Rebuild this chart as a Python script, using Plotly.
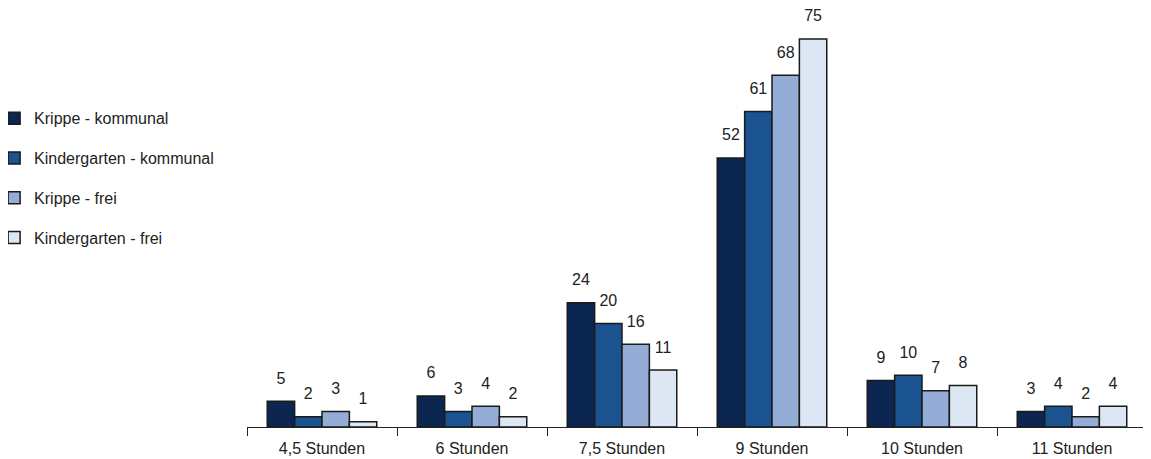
import plotly.graph_objects as go

categories = ["4,5 Stunden", "6 Stunden", "7,5 Stunden", "9 Stunden", "10 Stunden", "11 Stunden"]
series_names = ["Krippe - kommunal", "Kindergarten - kommunal", "Krippe - frei", "Kindergarten - frei"]
krippe_kommunal = [5, 6, 24, 52, 9, 3]
kindergarten_kommunal = [2, 3, 20, 61, 10, 4]
krippe_frei = [3, 4, 16, 68, 7, 2]
kindergarten_frei = [1, 2, 11, 75, 8, 4]
series_values = [krippe_kommunal, kindergarten_kommunal, krippe_frei, kindergarten_frei]
colors = ["#0b2651", "#1b5290", "#93add6", "#dde7f3"]

FONT = "Liberation Sans, Arial, sans-serif"
TXT = "#222222"

fig = go.Figure()
for i, (name, vals) in enumerate(zip(series_names, series_values)):
    fig.add_trace(go.Bar(
        x=categories, y=vals, name=name,
        marker=dict(color=colors[i], line=dict(color="#1a1a1a", width=1.5)),
        legendgroup=name,
    ))
for i, (name, vals) in enumerate(zip(series_names, series_values)):
    fig.add_trace(go.Scatter(
        x=categories, y=vals, mode="markers+text", showlegend=False,
        text=[str(v) for v in vals], textposition="top center",
        marker=dict(size=20, color="rgba(0,0,0,0)"),
        textfont=dict(size=16, color=TXT, family=FONT),
        cliponaxis=False, hoverinfo="skip",
    ))

# page has an 8px body margin, so figure is sized/positioned to compensate
fig.update_layout(
    width=1143, height=451,
    margin=dict(l=239, r=4, t=2, b=32, autoexpand=False),
    paper_bgcolor="white", plot_bgcolor="white",
    barmode="group", bargap=0.27, bargroupgap=0,
    scattermode="group", scattergap=0.27,
    font=dict(family=FONT, size=16, color=TXT),
    showlegend=True,
    legend=dict(x=-0.281, xanchor="left", y=0.781, yanchor="top",
                font=dict(size=16, family=FONT, color=TXT),
                tracegroupgap=16, itemwidth=30, bgcolor="rgba(0,0,0,0)"),
    xaxis=dict(showline=True, linecolor=TXT, linewidth=1,
               ticks="outside", tickson="boundaries", ticklen=8, tickcolor=TXT,
               ticklabelstandoff=7,
               tickfont=dict(size=16, family=FONT, color=TXT), showgrid=False),
    yaxis=dict(visible=False, range=[0, 80.6], showgrid=False),
)

fig.write_html("out.html")
